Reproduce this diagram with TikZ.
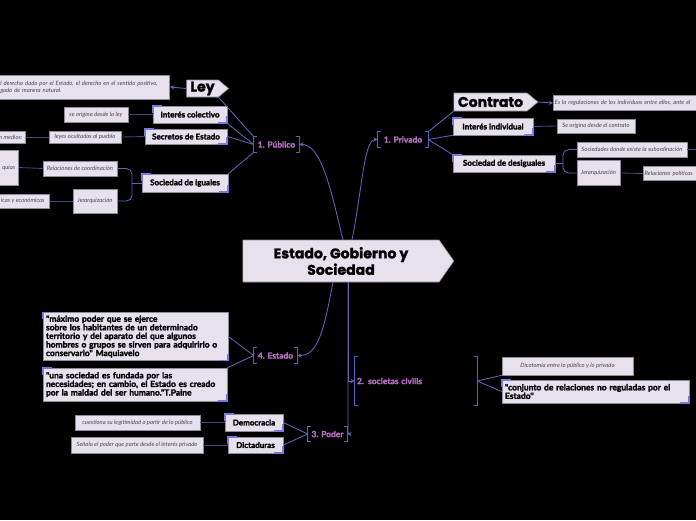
\documentclass[tikz,border=0pt]{standalone}
\usepackage{fontspec}
\setmainfont{Lato}
\newfontfamily\titlefont{Poppins}[FakeBold=1.5]
\newfontfamily\heavy{Lato Bold}[FakeBold=2]
\usetikzlibrary{shapes.symbols,arrows.meta}

\definecolor{boxfill}{RGB}{231,225,238}
\definecolor{boxline}{RGB}{140,140,150}
\definecolor{leaftext}{RGB}{70,70,80}
\definecolor{linkblue}{RGB}{100,100,185}
\definecolor{linkdark}{RGB}{70,70,130}
\definecolor{accblue}{RGB}{120,120,225}
\definecolor{brkblue}{RGB}{95,95,195}
\definecolor{catpurple}{RGB}{180,110,190}

\newcommand\accents[1]{%
  \draw[acc] (#1.north west) ++(0,7) |- ++(9,-7);
  \draw[acc] (#1.south east) ++(0,-7) |- ++(-9,7);}
\newcommand\brackets[1]{%
  \draw[brk] (#1.north west) ++(3,0) -| (#1.south west) -- ++(3,0);
  \draw[brk] (#1.north east) ++(-3,0) -| (#1.south east) -- ++(-3,0);}

\begin{document}
\begin{tikzpicture}[x=0.025cm,y=-0.025cm,
  every node/.style={inner sep=1pt},
  sz/.style 2 args={minimum width=#1*0.025cm,minimum height=#2*0.025cm},
  leaf/.style={draw=boxline,fill=boxfill,text=leaftext,font=\fontsize{4.2}{5}\selectfont\itshape},
  topic/.style={draw=boxline,fill=boxfill,font=\heavy\fontsize{5.7}{6.5}\selectfont},
  quote/.style={draw=boxline,fill=boxfill,align=left,inner sep=2pt,font=\heavy\fontsize{6}{6.1}\selectfont},
  cat/.style={text=catpurple,font=\heavy\fontsize{6}{7}\selectfont},
  arrowbox/.style={shape=signal,signal to=east,draw=boxline,fill=boxfill,font=\titlefont\bfseries},
  link/.style={draw=linkblue,line width=0.6pt},
  sublink/.style={draw=linkdark,line width=0.6pt},
  tip/.style={-{Stealth[length=3pt,width=3pt]}},
  acc/.style={draw=accblue,line width=1.2pt},
  brk/.style={draw=brkblue,line width=0.8pt}]
  \useasboundingbox (0,0) rectangle (696,520);
  \fill[black] (0,0) rectangle (696,520);
  \clip (0,0) rectangle (696,520);

  \node[arrowbox,sz={211}{42},signal pointer angle=110,align=center,
    font=\titlefont\fontsize{10}{10.5}\selectfont\bfseries] (C) at (341,261) {Estado, Gobierno y\\Sociedad};

  \node[cat,sz={45}{15}] (pub) at (276.5,144.5) {1. Público};
  \node[cat,sz={50}{15}] (priv) at (403,139.5) {1. Privado};
  \node[cat,sz={43}{15}] (est) at (275.5,355.5) {4. Estado};
  \node[cat,sz={39}{14}] (poder) at (327.5,434) {3. Poder};
  \node[cat,sz={122}{48},text width=118*0.025cm,align=left] (socciv) at (416,381) {2. societas civilis};
  \brackets{pub} \brackets{priv} \brackets{est} \brackets{poder} \brackets{socciv}

  \node[arrowbox,sz={42}{17},signal pointer angle=80,font=\titlefont\fontsize{10}{11}\selectfont\bfseries] (ley) at (202.5,88.5) {Ley};
  \node[arrowbox,sz={84}{18},signal pointer angle=80,font=\titlefont\fontsize{10}{11}\selectfont\bfseries] (contr) at (490.5,102) {Contrato};
  \node[topic,sz={74}{17}] (intcol) at (190,114.5) {Interés colectivo};
  \node[topic,sz={82}{15}] (secr) at (186,136.5) {Secretos de Estado};
  \node[topic,sz={86}{18}] (socig) at (185,183) {Sociedad de iguales};
  \node[topic,sz={80}{17}] (intind) at (493,126.5) {Interés individual};
  \node[topic,sz={102}{17}] (socdes) at (504,163.5) {Sociedad de desiguales};
  \node[topic,sz={58}{17}] (demo) at (254,422.5) {Democracia};
  \node[topic,sz={55}{16}] (dict) at (255.5,445) {Dictaduras};
  \node[quote,sz={185}{47},text width=179*0.025cm] (maq) at (135.5,336.5) {"máximo poder que se ejerce\\sobre los habitantes de un determinado\\territorio y del aparato del que algunos\\hombres o grupos se sirven para adquirirlo o\\conservarlo" Maquiavelo};
  \node[quote,sz={184}{33},text width=178*0.025cm] (paine) at (135,384.5) {"una sociedad es fundada por las\\necesidades; en cambio, el Estado es creado\\por la maldad del ser humano."T.Paine};
  \node[quote,sz={187}{23},text width=181*0.025cm] (conj) at (595.5,391.5) {"conjunto de relaciones no reguladas por el\\Estado"};
  \accents{intcol} \accents{secr} \accents{socig} \accents{intind} \accents{socdes}
  \accents{demo} \accents{dict} \accents{maq} \accents{paine} \accents{conj}

  \node[leaf,anchor=east,text width=168*0.025cm,align=left,minimum height=24*0.025cm] (deftxt) at (170,87) {l derecho dado por el Estado, el derecho en el sentido positivo,\\gado de manera natural.};
  \node[leaf,sz={64}{15}] (seorig) at (96,114.5) {se origina desde la ley};
  \node[leaf,sz={72}{12}] (leyoc) at (85,137) {leyes ocultadas al pueblo};
  \node[leaf,sz={30}{12},anchor=east,align=right] (nmed) at (26,137) {n medios:};
  \node[leaf,sz={74}{15}] (relco) at (80,168.5) {Relaciones de coordinación};
  \node[leaf,sz={20}{35},anchor=east] (quias) at (19,167.5) {quías};
  \node[leaf,sz={44}{24}] (jerq1) at (95,201) {Jerarquización};
  \node[leaf,sz={54}{14},anchor=east] (icas) at (50,201) {icas y económicas};
  \node[leaf,anchor=west,text width=160*0.025cm,align=left,minimum height=15*0.025cm] (cntxt) at (553,103) {Es la regulaciones de los individuos entre ellos, ante el};
  \node[leaf,sz={78}{14}] (seorig2) at (596,126) {Se origina desde el contrato};
  \node[leaf,sz={110}{15}] (subord) at (632,149.5) {Sociedades donde existe la subordinación};
  \node[leaf,sz={43}{25}] (jerq2) at (598.5,173) {Jerarquización};
  \node[leaf,anchor=west,text width=70*0.025cm,align=left,minimum height=14*0.025cm] (relpol) at (643,173.5) {Relaciones políticas};
  \node[leaf,sz={131}{18}] (dico) at (567.5,366) {Dicotomía entre lo público y lo privado};
  \node[leaf,sz={125}{15}] (cuest) at (137.5,422.5) {cuestiona su legitimidad a partir de lo público};
  \node[leaf,sz={132}{16}] (senala) at (137,445) {Señala el poder que parte desde el interés privado};

  \coordinate (c1) at (343,240);
  \coordinate (c2) at (352,240);
  \coordinate (c3) at (333,282);
  \coordinate (c4) at (348,282);
  \coordinate (bq1) at (132,183);
  \coordinate (bq2) at (563,163.5);
  \coordinate (out1) at (700,149.5);

  \draw[link,tip] (c1) .. controls (332,195) and (322,144) .. (pub.east);
  \draw[link,tip] (c2) .. controls (362,190) and (364,139.5) .. (priv.west);
  \draw[link,tip] (c3) .. controls (324,330) and (318,355.5) .. (est.east);
  \draw[link,tip] (c4) |- (socciv.west);
  \draw[link,tip] (c4) -- (348,428) .. controls (348,434) .. (poder.east);

  \draw[link] (pub.north west) -- (ley.south east);
  \draw[link] (pub.west) -- (intcol.south east);
  \draw[link] (pub.west) -- (secr.east);
  \draw[link] (pub.south west) -- (socig.north east);
  \draw[link] (priv.north east) -- (contr.south west);
  \draw[link] (priv.east) -- (intind.south west);
  \draw[link] (priv.east) -- (socdes.north west);
  \draw[link] (est.west) -- (maq.east);
  \draw[link] (est.west) -- (paine.north east);
  \draw[link] (socciv.east) -- (dico.south west);
  \draw[link] (socciv.east) -- (conj.west);
  \draw[link] (poder.west) -- (demo.east);
  \draw[link] (poder.west) -- (dict.east);

  \draw[link,tip] (ley.west) -- (deftxt.east);
  \draw[link,tip] (contr.east) -- (cntxt.west);
  \draw[sublink] (intcol.west) -- (seorig.east);
  \draw[sublink] (secr.west) -- (leyoc.east);
  \draw[sublink] (leyoc.west) -- (nmed.east);
  \draw[link] (socig.west) -- (bq1);
  \draw[link,rounded corners=4] (relco.east) -| (bq1) |- (jerq1.east);
  \draw[sublink] (relco.west) -- (quias.east);
  \draw[sublink] (jerq1.west) -- (icas.east);
  \draw[sublink] (intind.east) -- (seorig2.west);
  \draw[link] (socdes.east) -- (bq2);
  \draw[link,rounded corners=4] (subord.west) -| (bq2) |- (jerq2.west);
  \draw[sublink] (subord.east) -- (out1);
  \draw[sublink] (jerq2.east) -- (relpol.west);
  \draw[sublink] (demo.west) -- (cuest.east);
  \draw[sublink] (dict.west) -- (senala.east);
\end{tikzpicture}
\end{document}
